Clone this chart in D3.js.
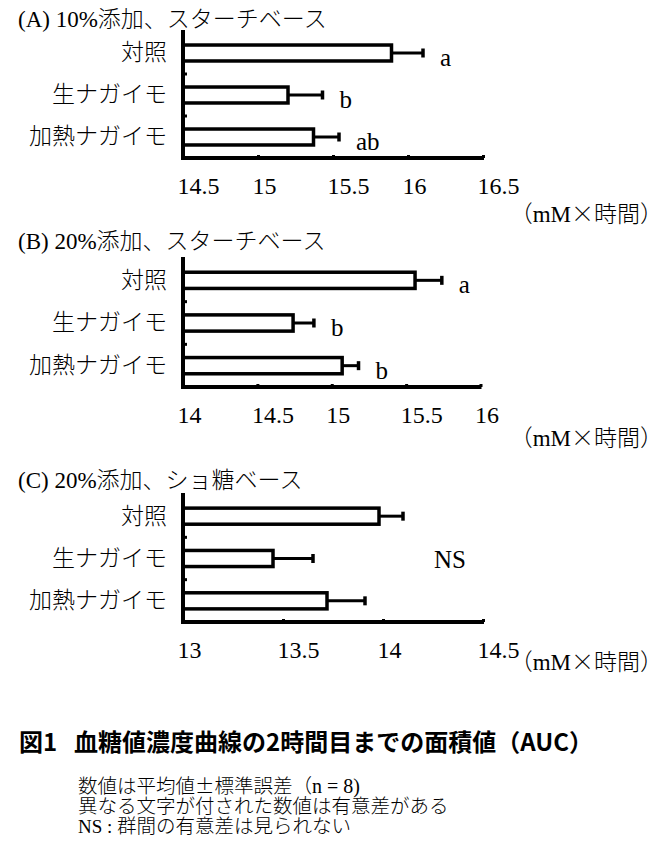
<!DOCTYPE html>
<html>
<head>
<meta charset="utf-8">
<script src="https://cdn.jsdelivr.net/npm/d3@7"></script>
<style>
  body { margin: 0; background: #fff; }
</style>
</head>
<body>
<svg id="chart" width="664" height="851"></svg>
<script>
// categories and values
const categories = ["対照", "生ナガイモ", "加熱ナガイモ"];

const meansA = [15.89, 15.20, 15.37];
const seA = [0.21, 0.23, 0.17];
const lettersA = ["a", "b", "ab"];
const ticksA = [14.5, 15, 15.5, 16, 16.5];

const meansB = [15.56, 14.74, 15.07];
const seB = [0.18, 0.14, 0.11];
const lettersB = ["a", "b", "b"];
const ticksB = [14, 14.5, 15, 15.5, 16];

const meansC = [13.98, 13.45, 13.72];
const seC = [0.12, 0.20, 0.19];
const lettersC = ["", "", ""];
const ticksC = [13, 13.5, 14, 14.5];

const unitLabel = ["（", "mM", "×時間）"];

const JP = "'Noto Sans CJK JP', sans-serif";
const SERIF = "'Liberation Serif', 'Times New Roman', serif";

const svg = d3.select("#chart");
svg.append("rect").attr("width", 664).attr("height", 851).attr("fill", "#fff");

// layout of each panel
const panels = [
  { tag: "(A) 10%", title: "添加、スターチベース", means: meansA, se: seA, letters: lettersA, ticks: ticksA,
    titleY: 27, top: 30, bandTop: 32, bottom: 158, right: 483, unitY: 222 },
  { tag: "(B) 20%", title: "添加、スターチベース", means: meansB, se: seB, letters: lettersB, ticks: ticksB,
    titleY: 249, top: 257, bandTop: 259, bottom: 387, right: 480.5, unitY: 446 },
  { tag: "(C) 20%", title: "添加、ショ糖ベース", means: meansC, se: seC, letters: lettersC, ticks: ticksC,
    titleY: 488, top: 493, bandTop: 495, bottom: 622, right: 483, unitY: 670, ns: true }
];

const left = 183;

panels.forEach((p) => {
  const g = svg.append("g");

  // panel title
  const t = g.append("text").attr("x", 18).attr("y", p.titleY).attr("font-size", 23).attr("fill", "#000");
  t.append("tspan").style("font-family", SERIF).text(p.tag);
  t.append("tspan").style("font-family", JP).style("font-weight", 300).text(p.title);

  const x = d3.scaleLinear()
    .domain([p.ticks[0], p.ticks[p.ticks.length - 1]])
    .range([left, p.right]);

  const y = d3.scaleBand()
    .domain(categories)
    .range([p.bandTop, p.bottom])
    .paddingInner(0.62)
    .paddingOuter(0.31);

  const rows = categories.map((c, i) => ({ name: c, mean: p.means[i], se: p.se[i], letter: p.letters[i] }));

  // bars
  g.selectAll(".bar")
    .data(rows)
    .enter()
    .append("rect")
    .attr("class", "bar")
    .attr("x", left)
    .attr("y", (d) => y(d.name))
    .attr("width", (d) => x(d.mean) - left)
    .attr("height", y.bandwidth())
    .attr("fill", "#fff")
    .attr("stroke", "#000")
    .attr("stroke-width", 3.5);

  // error bars
  g.selectAll(".err")
    .data(rows)
    .enter()
    .append("line")
    .attr("x1", (d) => x(d.mean))
    .attr("x2", (d) => x(d.mean + d.se))
    .attr("y1", (d) => y(d.name) + y.bandwidth() / 2)
    .attr("y2", (d) => y(d.name) + y.bandwidth() / 2)
    .attr("stroke", "#000")
    .attr("stroke-width", 3);

  g.selectAll(".cap")
    .data(rows)
    .enter()
    .append("line")
    .attr("x1", (d) => x(d.mean + d.se))
    .attr("x2", (d) => x(d.mean + d.se))
    .attr("y1", (d) => y(d.name) + y.bandwidth() / 2 - 4.5)
    .attr("y2", (d) => y(d.name) + y.bandwidth() / 2 + 4.5)
    .attr("stroke", "#000")
    .attr("stroke-width", 3.5);

  // significance letters
  g.selectAll(".letter")
    .data(rows)
    .enter()
    .append("text")
    .style("font-family", SERIF)
    .attr("x", (d) => x(d.mean + d.se) + 17)
    .attr("y", (d) => y(d.name) + y.bandwidth() / 2 + 13)
    .attr("font-size", 25)
    .text((d) => d.letter);

  if (p.ns) {
    g.append("text")
      .style("font-family", SERIF)
      .attr("x", 450)
      .attr("y", y(categories[1]) + y.bandwidth() / 2 + 9)
      .attr("text-anchor", "middle")
      .attr("font-size", 25)
      .text("NS");
  }

  // x axis
  const xAxis = g.append("g")
    .attr("transform", `translate(0,${p.bottom})`)
    .call(d3.axisBottom(x).tickValues(p.ticks).tickSize(-3).tickSizeOuter(0).tickFormat((d) => String(d)));
  xAxis.attr("font-family", null);
  xAxis.select(".domain").attr("stroke-width", 4).attr("d", `M${left - 2},0H${p.right + 1}`);
  xAxis.selectAll(".tick line").attr("stroke-width", 3);
  xAxis.selectAll(".tick text")
    .attr("font-family", SERIF)
    .style("font-family", SERIF)
    .style("font-size", "24px")
    .attr("fill", "#000")
    .attr("text-anchor", "start")
    .attr("x", -6)
    .attr("y", 36)
    .attr("dy", null);

  // y axis
  const yAxis = g.append("g")
    .attr("transform", `translate(${left},0)`)
    .call(d3.axisLeft(y).tickSize(0).tickPadding(16));
  yAxis.select(".domain").attr("stroke-width", 4).attr("d", `M0,${p.top}V${p.bottom + 2}`);
  yAxis.selectAll(".tick text")
    .style("font-family", JP)
    .style("font-weight", 300)
    .style("font-size", "23px")
    .attr("fill", "#000");

  // small ticks between categories
  g.selectAll(".ytick")
    .data(categories.slice(1))
    .enter()
    .append("line")
    .attr("x1", left)
    .attr("x2", left + 4)
    .attr("y1", (c) => y(c) - (y.step() * y.paddingInner()) / 2)
    .attr("y2", (c) => y(c) - (y.step() * y.paddingInner()) / 2)
    .attr("stroke", "#000")
    .attr("stroke-width", 3);

  // unit
  const u = g.append("text").attr("x", 663).attr("y", p.unitY).attr("text-anchor", "end").attr("font-size", 23);
  u.append("tspan").style("font-family", JP).style("font-weight", 300).text(unitLabel[0]);
  u.append("tspan").style("font-family", SERIF).text(unitLabel[1]);
  u.append("tspan").style("font-family", JP).style("font-weight", 300).text(unitLabel[2]);
});

// caption
const cap = svg.append("g").style("font-family", JP);
cap.append("text").attr("x", 19).attr("y", 751).attr("font-size", 24).attr("font-weight", "bold").text("図1");
cap.append("text").attr("x", 74).attr("y", 751).attr("font-size", 24).attr("font-weight", "bold")
  .text("血糖値濃度曲線の2時間目までの面積値（AUC）");

const n1 = cap.append("text").attr("x", 78).attr("y", 793).attr("font-size", 19.5);
n1.append("tspan").style("font-weight", 300).text("数値は平均値±標準誤差（");
n1.append("tspan").style("font-family", SERIF).attr("font-size", 20).text("n = 8)");

cap.append("text").style("font-weight", 300).attr("x", 78).attr("y", 813).attr("font-size", 19.5)
  .text("異なる文字が付された数値は有意差がある");

const n3 = cap.append("text").attr("x", 78).attr("y", 833).attr("font-size", 19.5);
n3.append("tspan").style("font-family", SERIF).attr("font-size", 19).text("NS : ");
n3.append("tspan").style("font-weight", 300).text("群間の有意差は見られない");
</script>
</body>
</html>
